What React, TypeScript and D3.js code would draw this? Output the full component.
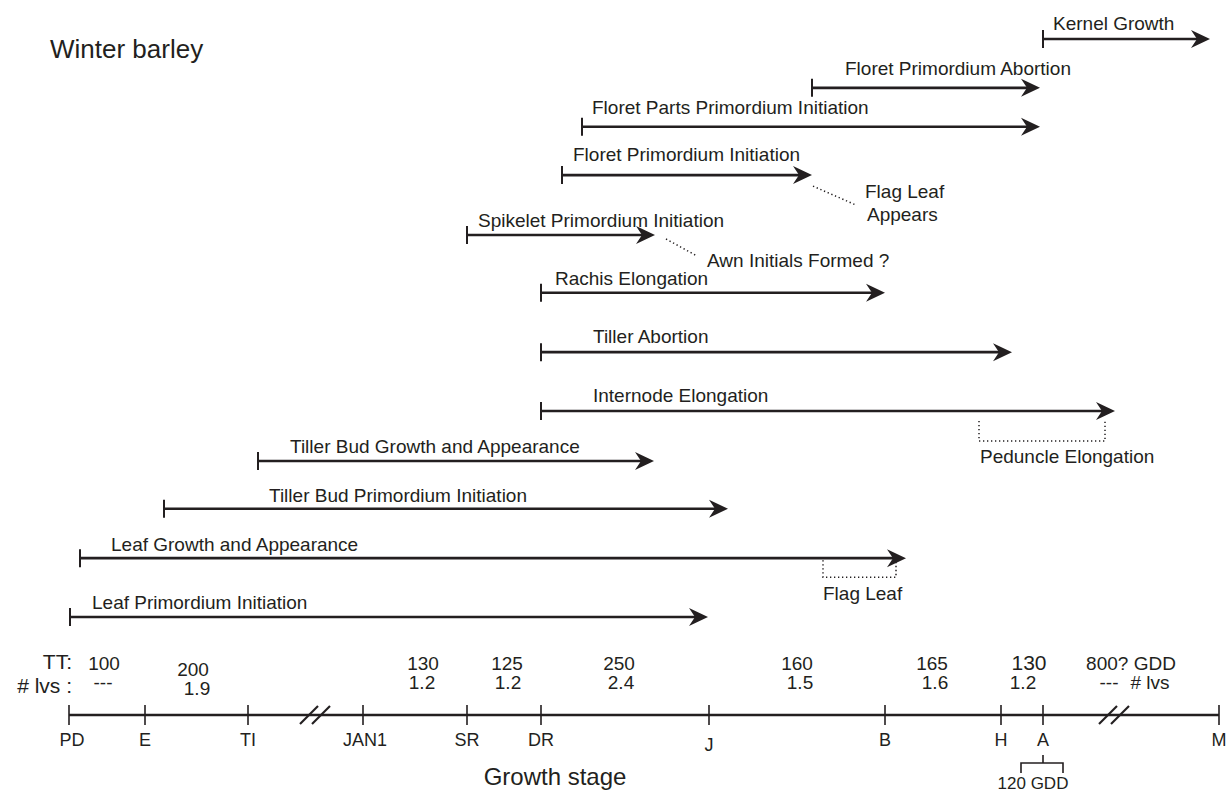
import * as d3 from "d3";

// growth stages along the bottom axis (axis units)
const stages = ["PD", "E", "TI", "JAN1", "SR", "DR", "J", "B", "H", "A", "M"];
const stageAt = [0, 76, 179, 294, 398, 472, 640, 816, 932, 974, 1150];
const axisBreaks = [246, 1045];

// thermal time and leaf counts between stages
const ttValues = ["100", "200", "130", "125", "250", "160", "165", "130", "800? GDD"];
const ttAt = [35, 124, 354, 438, 550, 728, 863, 960, 1062];
const lvsValues = ["---", "1.9", "1.2", "1.2", "2.4", "1.5", "1.6", "1.2", "---"];
const lvsAt = [34, 128, 353, 439, 552, 731, 866, 954, 1040];

// developmental processes
const processNames = [
  "Kernel Growth",
  "Floret Primordium Abortion",
  "Floret Parts Primordium Initiation",
  "Floret Primordium Initiation",
  "Spikelet Primordium Initiation",
  "Rachis Elongation",
  "Tiller Abortion",
  "Internode Elongation",
  "Tiller Bud Growth and Appearance",
  "Tiller Bud Primordium Initiation",
  "Leaf Growth and Appearance",
  "Leaf Primordium Initiation",
];
const processStart = [974, 743, 513, 493, 398, 472, 472, 472, 189, 95, 11, 1];
const processEnd = [1141, 971, 971, 743, 586, 816, 943, 1046, 585, 659, 837, 639];
const processLane = [11, 10.07, 9.33, 8.41, 7.27, 6.17, 5.04, 3.92, 2.97, 2.06, 1.12, 0];
const labelAt = [984, 776, 523, 504, 409, 486, 524, 524, 221, 200, 42, 23];

const W = 1228;
const H = 795;
const INK = "#231f20";
const FONT = "'Liberation Sans', Arial, Helvetica, sans-serif";
const AXIS_Y = 715;
const labelLift = [9, 13, 13, 14, 8, 8, 9, 9, 8, 7, 7, 8];

export default function App() {
  const x = d3.scaleLinear().domain([0, 1150]).range([69, 1219]);
  const y = d3.scaleLinear().domain([0, 11]).range([617, 39]);

  const arrowHead = (tx: number, ty: number) => {
    const p = d3.path();
    p.moveTo(tx, ty);
    p.lineTo(tx - 19, ty - 9);
    p.lineTo(tx - 13, ty);
    p.lineTo(tx - 19, ty + 9);
    p.closePath();
    return p.toString();
  };

  const dotted = { stroke: INK, strokeWidth: 1.5, strokeDasharray: "1.3 2.7", fill: "none" };

  const tipOf = (name: string) => {
    const i = processNames.indexOf(name);
    return [x(processEnd[i]), y(processLane[i])];
  };
  const [fpiX, fpiY] = tipOf("Floret Primordium Initiation");
  const [spkX, spkY] = tipOf("Spikelet Primordium Initiation");
  const [ieX, ieY] = tipOf("Internode Elongation");
  const [lgX, lgY] = tipOf("Leaf Growth and Appearance");

  return (
    <svg
      width={W}
      height={H}
      style={{ position: "absolute", left: 0, top: 0, background: "#fff" }}
      fontFamily={FONT}
      fill={INK}
    >
      <text x={50} y={58} fontSize={26}>
        Winter barley
      </text>

      {processNames.map((name, i) => {
        const x0 = x(processStart[i]);
        const x1 = x(processEnd[i]);
        const yy = y(processLane[i]);
        return (
          <g key={name}>
            <line x1={x0} x2={x0} y1={yy - 9} y2={yy + 9} stroke={INK} strokeWidth={2} />
            <line x1={x0} x2={x1 - 13} y1={yy} y2={yy} stroke={INK} strokeWidth={2.6} />
            <path d={arrowHead(x1, yy)} fill={INK} />
            <text x={x(labelAt[i])} y={yy - labelLift[i]} fontSize={19}>
              {name}
            </text>
          </g>
        );
      })}

      {/* leader lines and brackets */}
      <line x1={fpiX + 1} y1={fpiY + 11} x2={fpiX + 44} y2={fpiY + 30} {...dotted} />
      <text x={fpiX + 53} y={fpiY + 23} fontSize={19}>Flag Leaf</text>
      <text x={fpiX + 55} y={fpiY + 46} fontSize={19}>Appears</text>

      <line x1={spkX + 11} y1={spkY + 4} x2={spkX + 42} y2={spkY + 21} {...dotted} />
      <text x={spkX + 52} y={spkY + 32} fontSize={19}>Awn Initials Formed ?</text>

      <path
        d={`M${ieX - 136},${ieY + 10}V${ieY + 30}H${ieX - 10}V${ieY + 10}`}
        {...dotted}
      />
      <text x={ieX - 135} y={ieY + 52} fontSize={19}>Peduncle Elongation</text>

      <path d={`M${lgX - 83},${lgY + 2}V${lgY + 19}H${lgX - 10}V${lgY + 2}`} {...dotted} />
      <text x={lgX - 83} y={lgY + 42} fontSize={19}>Flag Leaf</text>

      {/* thermal time rows */}
      <text x={72} y={669} fontSize={21} textAnchor="end">TT:</text>
      <text x={72} y={693} fontSize={21} textAnchor="end"># lvs :</text>
      {ttValues.map((v, i) => (
        <text
          key={"tt" + i}
          x={x(ttAt[i])}
          y={i === 1 ? 676 : 670}
          fontSize={i === 7 ? 21 : 19}
          textAnchor="middle"
        >
          {v}
        </text>
      ))}
      {lvsValues.map((v, i) => (
        <text key={"lv" + i} x={x(lvsAt[i])} y={i === 1 ? 695 : 689} fontSize={19} textAnchor="middle">
          {v}
        </text>
      ))}
      <text x={x(1081)} y={689} fontSize={19} textAnchor="middle"># lvs</text>

      {/* growth stage axis */}
      <line x1={x(0)} x2={x(1150)} y1={AXIS_Y} y2={AXIS_Y} stroke={INK} strokeWidth={2.4} />
      {stages.map((s, i) => (
        <g key={s}>
          <line
            x1={x(stageAt[i])}
            x2={x(stageAt[i])}
            y1={AXIS_Y - 10}
            y2={AXIS_Y + 10}
            stroke={INK}
            strokeWidth={1.6}
          />
          <text
            x={x(stageAt[i]) + (s === "JAN1" ? 2 : s === "PD" ? 3 : 0)}
            y={s === "J" ? 751 : 746}
            fontSize={18}
            textAnchor="middle"
          >
            {s}
          </text>
        </g>
      ))}
      {axisBreaks.map((b) => (
        <g key={b}>
          {[-6, 6].map((d) => (
            <line
              key={d}
              x1={x(b) + d - 9}
              y1={AXIS_Y + 9}
              x2={x(b) + d + 9}
              y2={AXIS_Y - 9}
              stroke={INK}
              strokeWidth={2.2}
            />
          ))}
        </g>
      ))}

      {/* 120 GDD bracket below anthesis */}
      <path
        d={`M${x(974)},${AXIS_Y + 40}V${AXIS_Y + 48}M${x(974) - 22},${AXIS_Y + 58}V${AXIS_Y + 48}H${x(974) + 20}V${AXIS_Y + 58}`}
        stroke={INK}
        strokeWidth={1.6}
        fill="none"
      />
      <text x={x(974) - 10} y={789} fontSize={17} textAnchor="middle">120 GDD</text>

      <text x={555} y={785} fontSize={24} textAnchor="middle">Growth stage</text>
    </svg>
  );
}
